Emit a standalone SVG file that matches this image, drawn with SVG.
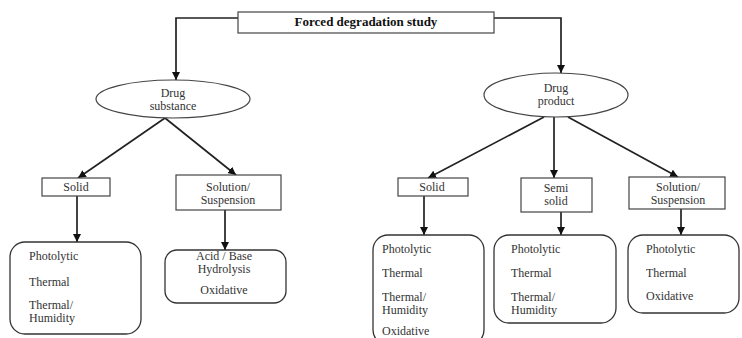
<svg xmlns="http://www.w3.org/2000/svg" width="742" height="338" viewBox="0 0 742 338">
<style>
.box{fill:#fff;stroke:#444;stroke-width:1.2}
.rbox{fill:#fff;stroke:#333;stroke-width:1.3}
.t{font-family:"Liberation Serif","Times New Roman",serif;font-size:12px;fill:#333}
.c{text-anchor:middle}
.title{font-family:"Liberation Serif","Times New Roman",serif;font-size:13px;font-weight:bold;fill:#111;text-anchor:middle}
.ln{fill:none;stroke:#222;stroke-width:1.7}
</style>
<defs>
<marker id="ah" markerUnits="userSpaceOnUse" markerWidth="9" markerHeight="9" refX="8" refY="4" orient="auto">
<path d="M0,0 L8,4 L0,8 z" fill="#111"/>
</marker>
</defs>
<rect width="742" height="338" fill="#fff"/>
<g id="connectors">
<polyline class="ln" points="238,18 176,18 176,80" marker-end="url(#ah)"/>
<polyline class="ln" points="494,18 561,18 561,73" marker-end="url(#ah)"/>
<line class="ln" x1="165" y1="118" x2="78" y2="178" marker-end="url(#ah)"/>
<line class="ln" x1="165" y1="118" x2="236" y2="175" marker-end="url(#ah)"/>
<line class="ln" x1="77" y1="196" x2="77" y2="242" marker-end="url(#ah)"/>
<line class="ln" x1="225" y1="210" x2="225" y2="250" marker-end="url(#ah)"/>
<line class="ln" x1="544" y1="117" x2="428" y2="178" marker-end="url(#ah)"/>
<line class="ln" x1="554" y1="117" x2="554" y2="178" marker-end="url(#ah)"/>
<line class="ln" x1="568" y1="117" x2="678" y2="177" marker-end="url(#ah)"/>
<line class="ln" x1="424" y1="196" x2="424" y2="235" marker-end="url(#ah)"/>
<line class="ln" x1="561" y1="212" x2="561" y2="235" marker-end="url(#ah)"/>
<line class="ln" x1="681" y1="209" x2="681" y2="235" marker-end="url(#ah)"/>
</g>
<g id="forced-degradation-study">
<rect class="box" x="238" y="12" width="256" height="21"/>
<text class="title" x="366" y="26">Forced degradation study</text>
</g>
<g id="drug-substance">
<ellipse class="box" cx="173" cy="99" rx="77" ry="19"/>
<text class="t c" x="173" y="97">Drug</text>
<text class="t c" x="173" y="110">substance</text>
</g>
<g id="drug-product">
<ellipse class="box" cx="556" cy="95" rx="72" ry="22"/>
<text class="t c" x="556" y="92">Drug</text>
<text class="t c" x="556" y="105">product</text>
</g>
<g id="ds-solid">
<rect class="box" x="42" y="178" width="68" height="18"/>
<text class="t c" x="76" y="191">Solid</text>
</g>
<g id="ds-solution">
<rect class="box" x="176" y="175" width="105" height="35"/>
<text class="t c" x="228" y="191">Solution/</text>
<text class="t c" x="228" y="204">Suspension</text>
</g>
<g id="dp-solid">
<rect class="box" x="398" y="178" width="70" height="18"/>
<text class="t c" x="432" y="191">Solid</text>
</g>
<g id="dp-semisolid">
<rect class="box" x="521" y="178" width="71" height="34"/>
<text class="t c" x="556" y="192">Semi</text>
<text class="t c" x="556" y="205">solid</text>
</g>
<g id="dp-solution">
<rect class="box" x="629" y="177" width="96" height="32"/>
<text class="t c" x="678" y="191">Solution/</text>
<text class="t c" x="678" y="204">Suspension</text>
</g>
<g id="ds-solid-tests">
<rect class="rbox" x="10" y="242" width="131" height="92" rx="15"/>
<text class="t" x="29" y="260">Photolytic</text>
<text class="t" x="29" y="286">Thermal</text>
<text class="t" x="29" y="309">Thermal/</text>
<text class="t" x="29" y="322">Humidity</text>
</g>
<g id="ds-solution-tests">
<rect class="rbox" x="165" y="250" width="121" height="53" rx="12"/>
<text class="t c" x="224" y="260">Acid / Base</text>
<text class="t c" x="224" y="273">Hydrolysis</text>
<text class="t c" x="224" y="294">Oxidative</text>
</g>
<g id="dp-solid-tests">
<rect class="rbox" x="373" y="235" width="111" height="110" rx="15"/>
<text class="t" x="382" y="253">Photolytic</text>
<text class="t" x="382" y="277">Thermal</text>
<text class="t" x="382" y="301">Thermal/</text>
<text class="t" x="382" y="314">Humidity</text>
<text class="t" x="382" y="335">Oxidative</text>
</g>
<g id="dp-semisolid-tests">
<rect class="rbox" x="494" y="235" width="122" height="88" rx="15"/>
<text class="t" x="511" y="253">Photolytic</text>
<text class="t" x="511" y="277">Thermal</text>
<text class="t" x="511" y="301">Thermal/</text>
<text class="t" x="511" y="314">Humidity</text>
</g>
<g id="dp-solution-tests">
<rect class="rbox" x="628" y="235" width="111" height="78" rx="15"/>
<text class="t" x="646" y="253">Photolytic</text>
<text class="t" x="646" y="277">Thermal</text>
<text class="t" x="646" y="300">Oxidative</text>
</g>
</svg>
